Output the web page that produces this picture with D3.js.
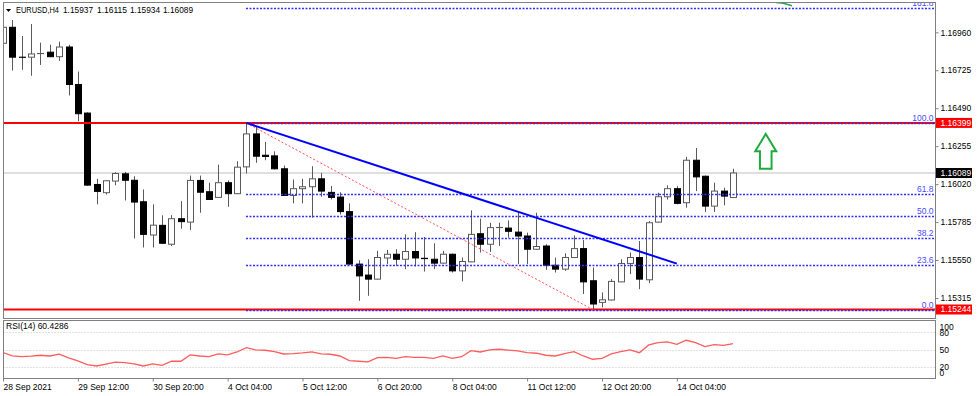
<!DOCTYPE html>
<html>
<head>
<meta charset="utf-8">
<script src="https://cdn.jsdelivr.net/npm/d3@7"></script>
<style>
  body { margin: 0; background: #fff; }
  svg text { font-family: "Liberation Sans", Arial, sans-serif; font-size: 8.5px; }
</style>
</head>
<body>
<svg id="chart" width="979" height="396"></svg>
<script>
// EURUSD H4, one entry per bar (index 0 = leftmost visible bar)
var opens = [
  1.16892, 1.16991, 1.16806, 1.16806, 1.16828, 1.16837, 1.16809, 1.16869, 1.16637, 1.16460,
  1.16018, 1.15967, 1.16039, 1.16084, 1.16044, 1.15911, 1.15705, 1.15765, 1.15648, 1.15806,
  1.15785, 1.16043, 1.15973, 1.15938, 1.16029, 1.15961, 1.16127, 1.16331, 1.16199, 1.16195,
  1.16115, 1.15950, 1.15992, 1.16004, 1.16053, 1.15969, 1.15940, 1.15850, 1.15525, 1.15457,
  1.15432, 1.15563, 1.15586, 1.15555, 1.15603, 1.15561, 1.15555, 1.15531, 1.15586, 1.15483,
  1.15539, 1.15713, 1.15648, 1.15751, 1.15748, 1.15723, 1.15699, 1.15617, 1.15637, 1.15518,
  1.15494, 1.15566, 1.15621, 1.15422, 1.15288, 1.15303, 1.15415, 1.15529, 1.15566, 1.15428,
  1.15785, 1.15942, 1.15992, 1.15905, 1.16168, 1.16069, 1.15884, 1.15977, 1.15937
];
var highs = [
  1.17005, 1.17036, 1.16937, 1.17011, 1.16896, 1.16883, 1.16902, 1.16882, 1.16717, 1.16465,
  1.16053, 1.16043, 1.16094, 1.16096, 1.16069, 1.15987, 1.15895, 1.15827, 1.15828, 1.15915,
  1.16073, 1.16073, 1.16029, 1.16141, 1.16043, 1.16162, 1.16399, 1.16378, 1.16281, 1.16223,
  1.16135, 1.16049, 1.16053, 1.16131, 1.16090, 1.16008, 1.15970, 1.15901, 1.15549, 1.15555,
  1.15607, 1.15613, 1.15617, 1.15709, 1.15723, 1.15693, 1.15654, 1.15607, 1.15590, 1.15566,
  1.15858, 1.15806, 1.15781, 1.15781, 1.15796, 1.15853, 1.15720, 1.15843, 1.15648, 1.15566,
  1.15592, 1.15703, 1.15674, 1.15504, 1.15350, 1.15432, 1.15555, 1.15597, 1.15668, 1.15791,
  1.15967, 1.16013, 1.16008, 1.16189, 1.16244, 1.16073, 1.16029, 1.15998, 1.16115
];
var lows = [
  1.16857, 1.16723, 1.16728, 1.16691, 1.16758, 1.16806, 1.16783, 1.16569, 1.16409, 1.16010,
  1.15895, 1.15956, 1.16013, 1.15919, 1.15683, 1.15628, 1.15628, 1.15650, 1.15637, 1.15744,
  1.15736, 1.15843, 1.15922, 1.15935, 1.15880, 1.15958, 1.16086, 1.16152, 1.16168, 1.16111,
  1.15948, 1.15901, 1.15901, 1.15812, 1.15942, 1.15925, 1.15832, 1.15522, 1.15298, 1.15329,
  1.15430, 1.15525, 1.15514, 1.15494, 1.15510, 1.15479, 1.15494, 1.15529, 1.15473, 1.15418,
  1.15537, 1.15597, 1.15600, 1.15637, 1.15689, 1.15525, 1.15525, 1.15615, 1.15489, 1.15473,
  1.15483, 1.15564, 1.15340, 1.15244, 1.15257, 1.15300, 1.15413, 1.15463, 1.15370, 1.15407,
  1.15783, 1.15925, 1.15895, 1.15874, 1.15977, 1.15847, 1.15847, 1.15889, 1.15934
];
var closes = [
  1.16991, 1.16806, 1.16805, 1.16826, 1.16829, 1.16809, 1.16869, 1.16637, 1.16456, 1.16014,
  1.15975, 1.16041, 1.16086, 1.16044, 1.15909, 1.15709, 1.15766, 1.15654, 1.15806, 1.15788,
  1.16043, 1.15970, 1.15925, 1.16029, 1.15961, 1.16125, 1.16331, 1.16193, 1.16191, 1.16115,
  1.15950, 1.15992, 1.16004, 1.16053, 1.15977, 1.15938, 1.15850, 1.15525, 1.15452, 1.15432,
  1.15566, 1.15586, 1.15555, 1.15603, 1.15563, 1.15559, 1.15531, 1.15586, 1.15483, 1.15541,
  1.15709, 1.15648, 1.15751, 1.15752, 1.15728, 1.15699, 1.15617, 1.15634, 1.15518, 1.15494,
  1.15566, 1.15621, 1.15415, 1.15278, 1.15304, 1.15418, 1.15529, 1.15566, 1.15432, 1.15781,
  1.15942, 1.15992, 1.15901, 1.16168, 1.16065, 1.15884, 1.15977, 1.15946, 1.16089
];
var rsiValues = [
  44.5, 39, 37.5, 38.5, 40, 38.7, 42, 35.5, 30, 23.5,
  21.3, 24.5, 28, 27.3, 25, 21.3, 24.8, 22.5, 29.5, 29.5,
  40.5, 38.7, 37.5, 42.2, 40.5, 45.7, 53.2, 49.5, 48.7, 46.2,
  42.2, 42.7, 44, 45.7, 42.2, 41.7, 38.7, 30.5, 29.5, 28.3,
  35.8, 36.3, 34.7, 37.5, 36.3, 36.3, 34.7, 38.7, 34.7, 37.5,
  48, 45.7, 49.5, 50.4, 49, 47.5, 44.5, 43.5, 40, 38.7,
  43, 46.2, 38.7, 33, 34.7, 42.2, 46.2, 49.2, 44.5, 58,
  62, 63.2, 59.1, 66.1, 62, 55, 58.5, 57.3, 60.4
];

var timeLabels = ["28 Sep 2021", "29 Sep 12:00", "30 Sep 20:00", "4 Oct 04:00", "5 Oct 12:00",
                  "6 Oct 20:00", "8 Oct 04:00", "11 Oct 12:00", "12 Oct 20:00", "14 Oct 04:00"];
var timeLabelBars = [0, 8, 16, 24, 32, 40, 48, 56, 64, 72];
var priceTicks = [1.16960, 1.16725, 1.16490, 1.16255, 1.16020, 1.15785, 1.15550, 1.15315];
var rsiTicks = [100, 80, 50, 20, 0];
var rsiLevels = [80, 50, 20];

var fibLevels = [0, 23.6, 38.2, 50, 61.8, 100, 161.8];
var fibLow = 1.15244, fibHigh = 1.16399, fibStartBar = 26;
var redLevels = [1.16399, 1.15244];
var trendBars = [26, 72], trendPrices = [1.16399, 1.15528];
var diagBars = [26, 63], diagPrices = [1.16399, 1.15244];
var arrowBar = 81.5, arrowTip = 1.16331, arrowBase = 1.16115;

var CandleChart = (function () {
  var fmt5 = d3.format(".5f");

  return {
    Plot: function (svgSel) {
      var svg = d3.select(svgSel),
          PANE = { left: 3.5, right: 935.5, top: 2.5, bottom: 318.5, rsiTop: 320.5, rsiBottom: 378.5 },
          x = d3.scaleLinear().domain([0, 78]).range([3, 733]),
          y = d3.scaleLinear().domain([1.15244, 1.16960]).range([309.5, 32.3]),
          rsiY = d3.scaleLinear().domain([0, 100]).range([378.2, 320.8]),
          bars = d3.range(opens.length),
          last = bars.length - 1;

      var defs = svg.append("defs");
      defs.append("clipPath").attr("id", "mainClip").append("rect")
        .attr("x", PANE.left).attr("y", PANE.top + 0.5)
        .attr("width", PANE.right - PANE.left).attr("height", PANE.bottom - PANE.top - 0.5);
      defs.append("clipPath").attr("id", "rsiClip").append("rect")
        .attr("x", PANE.left).attr("y", PANE.rsiTop)
        .attr("width", PANE.right - PANE.left).attr("height", PANE.rsiBottom - PANE.rsiTop);

      var main = svg.append("g").attr("clip-path", "url(#mainClip)");

      // bid line
      main.append("line")
        .attr("x1", PANE.left).attr("x2", PANE.right)
        .attr("y1", y(closes[last])).attr("y2", y(closes[last]))
        .attr("stroke", "#d4d4d4").attr("stroke-width", 1.5);

      var cx = function (i) { return Math.round(x(i)) + 0.5; };

      var candle = main.selectAll("g.candle").data(bars).enter()
        .append("g").attr("class", "candle");

      candle.append("line")
        .attr("x1", cx).attr("x2", cx)
        .attr("y1", function (i) { return y(highs[i]); })
        .attr("y2", function (i) { return y(lows[i]); })
        .attr("stroke", "#5a5a5a");

      candle.append("rect")
        .attr("x", function (i) { return cx(i) - 3; })
        .attr("width", 6)
        .attr("y", function (i) { return y(Math.max(opens[i], closes[i])); })
        .attr("height", function (i) { return Math.abs(y(opens[i]) - y(closes[i])); })
        .attr("fill", function (i) { return closes[i] >= opens[i] ? "#fff" : "#000"; })
        .attr("stroke", function (i) { return closes[i] >= opens[i] ? "#5a5a5a" : "#000"; });

      // red horizontal levels
      main.selectAll("line.red").data(redLevels).enter()
        .append("line").attr("class", "red")
        .attr("x1", PANE.left).attr("x2", PANE.right)
        .attr("y1", function (d) { return y(d); }).attr("y2", function (d) { return y(d); })
        .attr("stroke", "#ff0000").attr("stroke-width", 2);

      // fibonacci retracement
      var fibPrice = function (lv) { return fibLow + (fibHigh - fibLow) * lv / 100; };
      var fibY = function (lv) { return Math.round(y(fibPrice(lv))) + 0.5; };
      main.selectAll("line.fib").data(fibLevels).enter()
        .append("line").attr("class", "fib")
        .attr("x1", Math.round(x(fibStartBar))).attr("x2", PANE.right)
        .attr("y1", fibY).attr("y2", fibY)
        .attr("stroke", "#3030ff").attr("stroke-width", 1.3).attr("stroke-dasharray", "2,1.5");
      main.selectAll("text.fib").data(fibLevels).enter()
        .append("text").attr("class", "fib")
        .attr("x", PANE.right - 2).attr("y", function (d) { return y(fibPrice(d)) - 2; })
        .attr("text-anchor", "end").attr("fill", "#4b4bff")
        .text(d3.format(".1f"));

      main.append("line")
        .attr("x1", x(diagBars[0])).attr("y1", y(diagPrices[0]))
        .attr("x2", x(diagBars[1])).attr("y2", y(diagPrices[1]))
        .attr("stroke", "#ff5050").attr("stroke-dasharray", "2,2");

      main.append("line")
        .attr("x1", x(trendBars[0])).attr("y1", y(trendPrices[0]))
        .attr("x2", x(trendBars[1])).attr("y2", y(trendPrices[1]))
        .attr("stroke", "#0000ff").attr("stroke-width", 2);

      // up arrow
      var ax = x(arrowBar), headW = 10.5, shaftW = 5.8,
          tipY = y(arrowTip), baseY = y(arrowBase), wingY = tipY + (baseY - tipY) * 0.5;
      main.append("path")
        .attr("d", d3.line()([[ax, tipY], [ax + headW, wingY], [ax + shaftW, wingY], [ax + shaftW, baseY],
                              [ax - shaftW, baseY], [ax - shaftW, wingY], [ax - headW, wingY]]) + "Z")
        .attr("fill", "none").attr("stroke", "#1faa3c").attr("stroke-width", 2)
        .attr("stroke-linejoin", "miter");
      main.append("path")
        .attr("d", d3.line()([[x(82.6), y(1.17145)], [x(83.4), y(1.17140)], [x(84.3), y(1.17124)]]))
        .attr("fill", "none").attr("stroke", "#1faa3c").attr("stroke-width", 1.5);

      // header
      svg.append("path").attr("d", "M6,9L11,9L8.5,12Z").attr("fill", "#000");
      var head = ["EURUSD,H4", fmt5(opens[last]), fmt5(highs[last]), fmt5(lows[last]), fmt5(closes[last])];
      var headX = [16, 63, 97, 130, 163];
      svg.selectAll("text.head").data(head).enter()
        .append("text").attr("class", "head")
        .attr("x", function (d, i) { return headX[i]; }).attr("y", 13)
        .attr("textLength", function (d, i) { return i === 0 ? 43 : 30; })
        .attr("lengthAdjust", "spacingAndGlyphs")
        .text(function (d) { return d; });

      // RSI pane
      var rsi = svg.append("g").attr("clip-path", "url(#rsiClip)");
      rsi.selectAll("line.lvl").data(rsiLevels).enter()
        .append("line").attr("class", "lvl")
        .attr("x1", PANE.left).attr("x2", PANE.right)
        .attr("y1", function (d) { return Math.round(rsiY(d)) + 0.5; })
        .attr("y2", function (d) { return Math.round(rsiY(d)) + 0.5; })
        .attr("stroke", "#c4c4c4").attr("stroke-dasharray", "1,2");
      rsi.append("path")
        .datum(bars)
        .attr("d", d3.line().x(function (i) { return x(i); }).y(function (i) { return rsiY(rsiValues[i]); }))
        .attr("fill", "none").attr("stroke", "#ff5c5c").attr("stroke-width", 1.3);
      svg.append("text").attr("x", 6).attr("y", 329).text("RSI(14) 60.4286");

      // frames
      var frame = svg.append("g").attr("fill", "none").attr("stroke", "#808080");
      frame.append("rect").attr("x", PANE.left).attr("y", PANE.top)
        .attr("width", PANE.right - PANE.left).attr("height", PANE.bottom - PANE.top);
      frame.append("rect").attr("x", PANE.left).attr("y", PANE.rsiTop)
        .attr("width", PANE.right - PANE.left).attr("height", PANE.rsiBottom - PANE.rsiTop);

      // price axis
      var yAxis = d3.axisRight(y).tickValues(priceTicks).tickSize(3).tickPadding(2).tickFormat(fmt5);
      var gy = svg.append("g").attr("transform", "translate(" + PANE.right + ",0)").call(yAxis);
      gy.select(".domain").remove();
      gy.selectAll("text").attr("fill", "#000").style("font-size", "8.5px")
        .style("font-family", "'Liberation Sans', Arial, sans-serif");
      gy.selectAll("line").attr("stroke", "#808080");

      var marks = [
        { p: redLevels[0], fill: "#ff0000" },
        { p: closes[last], fill: "#000000" },
        { p: redLevels[1], fill: "#ff0000" }
      ];
      var mk = svg.selectAll("g.mk").data(marks).enter().append("g").attr("class", "mk");
      mk.append("rect")
        .attr("x", PANE.right + 0.5).attr("width", 36)
        .attr("y", function (d) { return y(d.p) - 5; }).attr("height", 10)
        .attr("fill", function (d) { return d.fill; });
      mk.append("text")
        .attr("x", 940.5).attr("y", function (d) { return y(d.p); }).attr("dy", "0.32em")
        .attr("fill", "#fff").text(function (d) { return fmt5(d.p); });

      // RSI axis
      var rsiAxis = d3.axisRight(rsiY).tickValues(rsiTicks).tickSize(0).tickPadding(4);
      var gr = svg.append("g").attr("transform", "translate(" + PANE.right + ",0)").call(rsiAxis);
      gr.select(".domain").remove();
      gr.selectAll("text").attr("fill", "#000").style("font-size", "8.5px")
        .style("font-family", "'Liberation Sans', Arial, sans-serif")
        .attr("dy", function (d) { return d === 100 ? "1.0em" : (d === 0 ? "-0.3em" : "0.32em"); });

      // time axis
      var xAxis = d3.axisBottom(x).tickValues(timeLabelBars).tickSize(3)
        .tickFormat(function (d, i) { return timeLabels[i]; });
      var gx = svg.append("g").attr("transform", "translate(0," + PANE.rsiBottom + ")").call(xAxis);
      gx.select(".domain").remove();
      gx.selectAll("line").attr("stroke", "#808080");
      gx.selectAll("text").attr("fill", "#000").attr("text-anchor", "start")
        .attr("x", 0).attr("y", 5).attr("dy", "0.71em")
        .style("font-size", "8.5px").style("font-family", "'Liberation Sans', Arial, sans-serif");
    }
  };
})();

CandleChart.Plot("#chart");
</script>
</body>
</html>
